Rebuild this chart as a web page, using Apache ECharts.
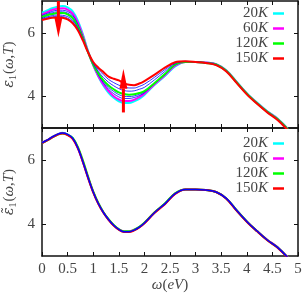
<!DOCTYPE html>
<html><head><meta charset="utf-8">
<script src="https://cdn.jsdelivr.net/npm/echarts@6/dist/echarts.min.js"></script>
<style>html,body{margin:0;padding:0;background:#fff}#c{width:304px;height:296px}</style>
</head><body><div id="c"></div>
<script>
const omega = [0,0.1,0.2,0.3,0.4,0.5,0.6,0.7,0.8,0.9,1.0,1.1,1.2,1.3,1.4,1.5,1.6,1.7,1.8,1.9,2.0,2.2,2.4,2.6,2.8,3.0,3.2,3.4,3.6,3.8,4.0,4.2,4.4,4.6,4.8];

// top panel: epsilon_1(omega,T)
const top20  = [6.63,6.70,6.77,6.82,6.84,6.80,6.67,6.38,5.94,5.42,4.98,4.62,4.33,4.11,3.95,3.84,3.79,3.79,3.84,3.92,4.04,4.36,4.64,4.94,5.08,5.08,5.06,5.01,4.82,4.46,4.10,3.80,3.53,3.30,2.98];
const top60  = [6.58,6.65,6.72,6.76,6.77,6.73,6.60,6.32,5.90,5.40,4.98,4.64,4.37,4.16,4.00,3.90,3.85,3.85,3.89,3.97,4.08,4.38,4.66,4.96,5.08,5.08,5.06,5.01,4.81,4.45,4.09,3.79,3.52,3.29,2.97];
const top80  = [6.55,6.61,6.67,6.71,6.71,6.67,6.55,6.27,5.87,5.39,4.99,4.67,4.42,4.22,4.08,3.98,3.93,3.93,3.96,4.02,4.11,4.40,4.68,4.98,5.08,5.08,5.06,5.01,4.81,4.45,4.09,3.79,3.52,3.29,2.97];
const top100 = [6.52,6.58,6.63,6.66,6.66,6.62,6.50,6.23,5.85,5.38,5.00,4.70,4.46,4.28,4.15,4.05,4.00,3.99,4.01,4.06,4.13,4.41,4.69,4.99,5.08,5.08,5.05,5.00,4.80,4.44,4.08,3.78,3.51,3.28,2.96];
const top120 = [6.50,6.55,6.59,6.62,6.62,6.58,6.46,6.20,5.83,5.38,5.00,4.72,4.50,4.34,4.22,4.12,4.07,4.05,4.06,4.10,4.16,4.42,4.70,5.00,5.08,5.08,5.05,5.00,4.80,4.44,4.08,3.78,3.51,3.28,2.96];
const top130 = [6.46,6.50,6.54,6.56,6.55,6.51,6.39,6.15,5.80,5.38,5.03,4.78,4.59,4.44,4.33,4.24,4.18,4.16,4.17,4.22,4.28,4.52,4.78,5.03,5.09,5.08,5.05,4.99,4.79,4.43,4.07,3.77,3.50,3.27,2.95];
const top140 = [6.43,6.47,6.50,6.52,6.51,6.46,6.34,6.11,5.78,5.38,5.05,4.84,4.68,4.53,4.43,4.35,4.29,4.26,4.26,4.31,4.38,4.60,4.84,5.05,5.10,5.08,5.05,4.98,4.78,4.42,4.06,3.76,3.49,3.26,2.94];
const top150 = [6.40,6.44,6.47,6.48,6.47,6.42,6.30,6.08,5.75,5.38,5.08,4.90,4.76,4.62,4.55,4.50,4.41,4.36,4.35,4.40,4.48,4.68,4.90,5.07,5.10,5.08,5.05,4.98,4.78,4.42,4.06,3.76,3.49,3.25,2.93];

// bottom panel: tilde epsilon_1(omega,T)
const bot20  = [6.54,6.62,6.72,6.80,6.85,6.80,6.68,6.38,5.94,5.45,5.00,4.64,4.36,4.14,3.96,3.83,3.76,3.76,3.81,3.90,4.03,4.36,4.63,4.95,5.08,5.08,5.06,5.00,4.80,4.43,4.08,3.78,3.50,3.27,2.95];
const bot60  = [6.54,6.62,6.72,6.80,6.84,6.79,6.67,6.37,5.93,5.45,5.00,4.64,4.36,4.14,3.96,3.83,3.77,3.77,3.82,3.90,4.03,4.36,4.63,4.95,5.08,5.08,5.06,5.00,4.80,4.43,4.08,3.78,3.51,3.28,2.96];
const bot120 = [6.53,6.61,6.71,6.79,6.83,6.79,6.69,6.41,5.98,5.48,5.02,4.66,4.37,4.15,3.97,3.84,3.77,3.77,3.82,3.91,4.04,4.37,4.64,4.96,5.08,5.08,5.06,5.00,4.80,4.43,4.08,3.78,3.50,3.27,2.95];
const bot150 = [6.53,6.61,6.71,6.79,6.83,6.78,6.66,6.37,5.93,5.44,4.99,4.63,4.35,4.13,3.95,3.82,3.75,3.75,3.80,3.89,4.02,4.35,4.62,4.94,5.08,5.08,5.06,5.00,4.79,4.42,4.07,3.77,3.49,3.26,2.94];
const botMid = [6.54,6.62,6.72,6.80,6.84,6.80,6.68,6.38,5.94,5.45,5.00,4.64,4.36,4.14,3.96,3.83,3.76,3.76,3.81,3.90,4.03,4.36,4.63,4.95,5.08,5.08,5.06,5.00,4.80,4.43,4.08,3.78,3.50,3.27,2.95];

const legendNames = ['20K','60K','120K','150K'];
const yTickValues = [4,6];
// arrows: [omega, start value, tip value]
const arrows = [[0.32,7.0,5.85],[1.59,3.49,4.87]];

const SERIF = 'Liberation Serif';
const TXT = '#444';
const pair = a => omega.map((w,i)=>[w,a[i]]);
function line(name,data,color,width,ax){
  return {type:'line',name:name,data:pair(data),xAxisIndex:ax,yAxisIndex:ax,color:color,
    showSymbol:false,smooth:0.35,lineStyle:{color:color,width:width},silent:true,animation:false};
}
const axLine = {show:true,onZero:false,lineStyle:{color:'#111',width:1.5}};
const axTick = {show:true,inside:true,length:4,lineStyle:{color:'#111',width:1}};
function xAx(grid,pos,labels){
  const o = {type:'value',gridIndex:grid,position:pos,min:0,max:5,interval:0.5,
    axisLine:axLine,axisTick:axTick,splitLine:{show:false},
    axisLabel:{show:labels,color:TXT,fontFamily:SERIF,fontSize:15,margin:6,
      formatter:v=>String(v),showMaxLabel:true,showMinLabel:true}};
  if(labels){
    o.name='{i|ω}{n|(}{i|eV}{n|)}';
    o.nameLocation='middle'; o.nameGap=22; o.nameMoveOverlap=false;
    o.nameTextStyle={rich:{i:{fontFamily:SERIF,fontStyle:'italic',fontSize:15,color:TXT},n:{fontFamily:SERIF,fontSize:15,color:TXT}}};
  }
  return o;
}
function yAx(grid,pos,labels,eps){
  const o = {type:'value',gridIndex:grid,position:pos,min:3,max:7,
    axisLine:axLine,axisTick:Object.assign({customValues:yTickValues},axTick),splitLine:{show:false},
    axisLabel:{show:labels,customValues:yTickValues,color:TXT,fontFamily:SERIF,fontSize:15,margin:7}};
  if(labels){
    o.name='{e|'+eps+'}{s|1}{n|(}{i|ω}{n|,}{i|T}{n|)}';
    o.nameLocation='middle'; o.nameGap=24; o.nameRotate=90; o.nameMoveOverlap=false;
    o.nameTextStyle={rich:{
      e:{fontFamily:'DejaVu Serif',fontStyle:'italic',fontSize:14,color:TXT,lineHeight:18},
      i:{fontFamily:SERIF,fontStyle:'italic',fontSize:15,color:TXT,lineHeight:18},
      n:{fontFamily:SERIF,fontSize:15,color:TXT,lineHeight:18},
      s:{fontFamily:SERIF,fontSize:10,color:TXT,lineHeight:10,verticalAlign:'bottom',padding:[0,1,0,0]}}};
  }
  return o;
}
function legend(top){
  return {data:legendNames,orient:'vertical',align:'right',right:20,top:top,padding:0,itemGap:0,
    itemWidth:11,itemHeight:2.5,icon:'rect',selectedMode:false,
    formatter:n=>'{n|'+n.slice(0,-1)+'}{i|K}',
    textStyle:{rich:{n:{fontFamily:SERIF,fontSize:15,color:TXT,lineHeight:13},
      i:{fontFamily:SERIF,fontStyle:'italic',fontSize:15,color:TXT,lineHeight:13}}}};
}
const arrowSeries = {type:'custom',xAxisIndex:0,yAxisIndex:0,data:arrows,z:10,silent:true,animation:false,
  renderItem:(p,api)=>{
    const x=api.value(0), p0=api.coord([x,api.value(1)]), p1=api.coord([x,api.value(2)]);
    const dir = p1[1]>p0[1]?1:-1, hl=20, hw=4;
    const by = p1[1]-dir*hl;
    return {type:'group',children:[
      {type:'rect',shape:{x:p0[0]-1.5,y:Math.min(p0[1],by),width:3,height:Math.abs(by-p0[1])},style:{fill:'#ff0000'}},
      {type:'polygon',shape:{points:[[p1[0],p1[1]],[p1[0]-hw,by],[p1[0]+hw,by]]},style:{fill:'#ff0000'}}
    ]};
  }};

const chart = echarts.init(document.getElementById('c'),null,{renderer:'canvas'});
chart.setOption({
  animation:false,
  grid:[{left:42,right:6,top:1,height:127,outerBoundsMode:'none',containLabel:false},
        {left:42,right:6,top:128,height:128,outerBoundsMode:'none',containLabel:false}],
  xAxis:[xAx(0,'bottom',false),xAx(0,'top',false),xAx(1,'bottom',true),xAx(1,'top',false)],
  yAxis:[yAx(0,'left',true,'ε'),yAx(0,'right',false),yAx(1,'left',true,'ε\u0303'),yAx(1,'right',false)],
  legend:[legend(6),legend(136)],
  series:[
    line('20K',top20,'#00ffff',2,0),
    line('60K',top60,'#ff00ff',2,0),
    line('b80',top80,'#0000ff',0.8,0),
    line('b100',top100,'#0000ff',0.8,0),
    line('120K',top120,'#00ff00',2,0),
    line('b130',top130,'#0000ff',0.8,0),
    line('b140',top140,'#0000ff',0.8,0),
    line('150K',top150,'#ff0000',2,0),
    arrowSeries,
    line('20K',bot20,'#00ffff',2,2),
    line('60K',bot60,'#ff00ff',2,2),
    line('120K',bot120,'#00ff00',2,2),
    line('150K',bot150,'#ff0000',2,2),
    line('bmid',botMid,'#0000ff',1.5,2)
  ]
});
</script></body></html>
